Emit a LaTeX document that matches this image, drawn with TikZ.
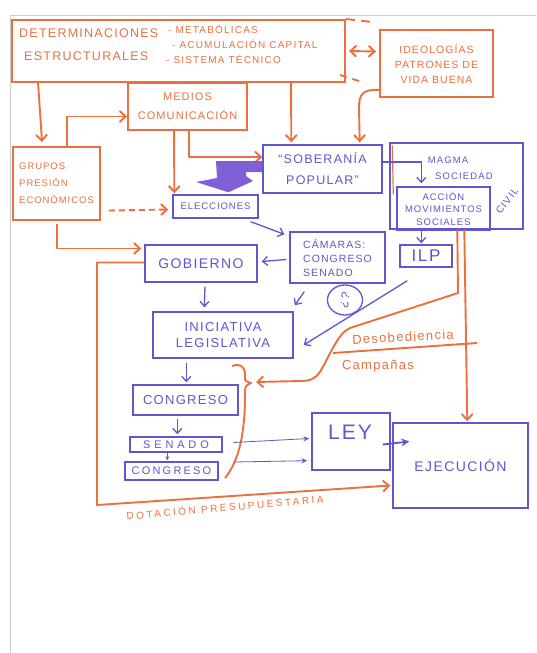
\documentclass[tikz,border=0pt]{standalone}
\usepackage{fontspec}
\setmainfont[LetterSpace=10]{Liberation Sans}
\usetikzlibrary{arrows.meta,calc,shapes.geometric}
\definecolor{orng}{RGB}{236,112,62}
\definecolor{blu}{RGB}{96,86,208}
\definecolor{purp}{RGB}{118,82,212}
\definecolor{framegray}{RGB}{205,205,205}
\newcommand\myfs[2]{\fontsize{#1}{#2}\selectfont}
\begin{document}
\begin{tikzpicture}[x=1pt,y=-1pt,
  obox/.style={draw=orng, line width=1.9pt, text=orng, align=center, inner sep=1pt},
  bbox/.style={draw=blu, line width=1.4pt, text=blu, align=center, inner sep=1pt},
  otext/.style={text=orng, align=center, inner sep=0pt},
  btext/.style={text=blu, align=center, inner sep=0pt},
  oline/.style={draw=orng, line width=1.9pt, line join=round},
  bline/.style={draw=blu, line width=1.3pt, line join=round},
  oarr/.style={oline, -{Straight Barb[length=6pt,width=11pt]}},
  barr/.style={bline, -{Straight Barb[length=5pt,width=9pt]}},
  thinb/.style={draw=blu, line width=0.8pt, -{Stealth[length=6pt,width=5pt]}},
]
\useasboundingbox (0,0) rectangle (536,653);
\fill[white] (0,0) rectangle (536,653);
\draw[framegray, line width=0.8pt] (10,653) -- (10,15) -- (536,15);

% ---------- orange boxes ----------
\node[obox, minimum width=333pt, minimum height=62pt] (det) at (178.5,51) {};
\node[otext, font=\myfs{12.5}{14}, anchor=west] (detA) at (19,33) {DETERMINACIONES};
\node[otext, font=\myfs{12.5}{14}, anchor=west] (detB) at (24,56) {ESTRUCTURALES};
\node[otext, font=\myfs{10}{12}, anchor=west] (detC) at (168,29) {\addfontfeature{LetterSpace=12}- METABÓLICAS};
\node[otext, font=\myfs{10}{12}, anchor=west] (detD) at (172,44) {\addfontfeature{LetterSpace=12}- ACUMULACIÓN CAPITAL};
\node[otext, font=\myfs{10}{12}, anchor=west] (detE) at (166,59) {\addfontfeature{LetterSpace=12}- SISTEMA TÉCNICO};

\node[obox, minimum width=113pt, minimum height=67pt, font=\myfs{10.5}{15}] (ideo) at (436.5,63.5) {IDEOLOGÍAS\\PATRONES DE\\VIDA BUENA};
\node[obox, minimum width=119pt, minimum height=47pt, font=\myfs{11}{19}] (medios) at (187.5,106.5) {MEDIOS\\COMUNICACIÓN};
\node[obox, minimum width=87pt, minimum height=73pt, font=\myfs{9.5}{17}, align=left] (grupos) at (56.5,183.5) {GRUPOS\\PRESIÓN\\ECONÓMICOS};

% ---------- blue boxes ----------
\node[bbox, minimum width=119pt, minimum height=48pt, font=\myfs{12.5}{21}] (sob) at (322.5,169) {“SOBERANÍA\\POPULAR”};
\node[bbox, minimum width=85pt, minimum height=23pt, font=\myfs{9.5}{11}] (elec) at (215.5,206.5) {ELECCIONES};
\node[bbox, minimum width=112pt, minimum height=37pt, font=\myfs{14}{16}] (gob) at (201,263.5) {GOBIERNO};
\node[bbox, minimum width=95pt, minimum height=51pt, font=\myfs{10.5}{14}, align=left] (cam) at (337.5,257.5) {CÁMARAS:\\CONGRESO\\SENADO};
\node[bbox, minimum width=133pt, minimum height=86pt] (magma) at (456.5,186) {};
\node[btext, font=\myfs{9.5}{11}] (magA) at (448,160) {\addfontfeature{LetterSpace=12}MAGMA};
\node[btext, font=\myfs{9.5}{11}] (magB) at (464,176) {\addfontfeature{LetterSpace=12}SOCIEDAD};
\node[btext, font=\myfs{10}{11}, rotate=52] (civil) at (507,201) {\addfontfeature{LetterSpace=12}CIVIL};
\node[bbox, minimum width=93pt, minimum height=43pt, font=\myfs{9.5}{12.5}] (accion) at (443.5,208.5) {ACCIÓN\\MOVIMIENTOS\\SOCIALES};
\node[bbox, minimum width=52pt, minimum height=22pt, font=\myfs{17}{18}] (ilp) at (426,256) {ILP};
\node[bbox, minimum width=140pt, minimum height=46pt, font=\myfs{13}{16}] (inic) at (223,335) {INICIATIVA\\LEGISLATIVA};
\node[bbox, minimum width=105pt, minimum height=30pt, font=\myfs{13}{14}] (congA) at (185.5,400) {CONGRESO};
\node[bbox, minimum width=92pt, minimum height=15pt, font=\myfs{11}{12}] (sen) at (176,444.5) {\addfontfeature{LetterSpace=35}SENADO};
\node[bbox, minimum width=93pt, minimum height=18pt, font=\myfs{11}{12}] (congB) at (171.5,471) {\addfontfeature{LetterSpace=20}CONGRESO};
\node[bbox, minimum width=78pt, minimum height=57pt] (ley) at (351,441.5) {};
\node[btext, font=\myfs{21}{22}] (leyT) at (350,432) {LEY};
\node[bbox, minimum width=135pt, minimum height=85pt, font=\myfs{14}{16}] (ejec) at (460.5,465.5) {EJECUCIÓN};

\node[ellipse, draw=blu, line width=1.3pt, minimum width=35pt, minimum height=30pt] (qcirc) at (345,300) {};
\node[btext, font=\myfs{12}{12}, rotate=70] (qtxt) at (qcirc) {¿?};

% ---------- free labels ----------
\node[otext, font=\myfs{13}{14}, rotate=3] (desob) at (403,337) {Desobediencia};
\node[otext, font=\myfs{13}{14}] (camp) at (378,366) {Campañas};
\node[otext, font=\myfs{10}{12}, rotate=5] (dot) at (225,507) {\addfontfeature{LetterSpace=25}DOTACIÓN PRESUPUESTARIA};

\coordinate (dashA) at (372,22);
\coordinate (dashB) at (362,82);
\coordinate (bracetip) at (251,383);
\coordinate (divL) at (333,353);
\coordinate (divR) at (477,343);

% ---------- orange connectors ----------
\draw[oarr] ($(det.south west)+(27,0)$) -- ($(grupos.north west)+(30,-4)$);
\draw[oarr] ($(grupos.north west)+(55,0)$) |- ($(medios.west)+(0,10)$);
\draw[oarr] ($(medios.south west)+(47,0)$) -- ($(elec.north west)+(2,-1)$);
\draw[oarr] ($(medios.south west)+(62,0)$) |- ($(sob.west)+(0,-12)$);
\draw[oarr] ($(det.south west)+(280,0)$) -- ($(sob.north west)+(29,-2)$);
\draw[oarr] ($(ideo.south west)+(0,-8)$) .. controls (362,89) and (359,95) .. (359,108) -- ($(sob.north east)+(-23,-2)$);
\draw[oline, {Straight Barb[length=6pt,width=11pt]}-{Straight Barb[length=6pt,width=11pt]}] ($(det.east)+(3,0)$) -- ($(ideo.west)+(-3,-12)$);
\draw[oline, dash pattern=on 9pt off 6pt] (det.north east) -- (dashA);
\draw[oline, dash pattern=on 7pt off 6pt] ($(det.south east)+(-6,-8)$) -- (dashB);
\draw[oarr, dash pattern=on 6pt off 4pt] ($(grupos.east)+(8,27)$) -- ($(elec.west)+(-4,3)$);
\draw[oarr] ($(grupos.south west)+(45,3)$) |- ($(gob.west)+(-3,-15)$);
\draw[oarr] ($(gob.west)+(0,-1)$) -| (97,505) -- ($(ejec.west)+(-2,20)$);
\draw[oarr] ($(magma.south west)+(75,0)$) -- ($(ejec.north west)+(75,-1)$);
\draw[oarr] ($(magma.south west)+(68,0)$) -- (458,293) -- (350,328)
   .. controls (338,333) and (330,355) .. (320,372)
   .. controls (315,379) and (310,381) .. (300,381) -- ($(bracetip)+(5,-1)$);
\draw[oline] (divL) -- (divR);
\draw[oline] (232,366) .. controls (242,362) and (246,370) .. (245,377)
   .. controls (245,381) .. (bracetip)
   .. controls (245,386) .. (245,395)
   .. controls (245,430) and (240,460) .. (225,478);
\draw[orng, line width=1.2pt] ($(magma.north west)+(3,3)$) -- ($(magma.north west)+(4,52)$);

% ---------- blue connectors ----------
\fill[purp, opacity=0.92] ($(sob.west)+(0,-8)$) -- (216,161) -- (217,178) -- (196,182) -- ($(elec.north)+(13,-2)$) -- (253,181) -- (246,176) -- (246,172) -- ($(sob.west)+(0,3)$) -- cycle;
\draw[barr] ($(elec.south east)+(-8,3)$) -- ($(cam.north west)+(-5,3)$);
\draw[barr] ($(cam.west)+(-3,2)$) -- ($(gob.east)+(4,-2)$);
\draw[barr] ($(sob.east)+(0,-7)$) -| ($(accion.north west)+(25,-3)$);
\draw[barr] ($(accion.south west)+(25,0)$) -- ($(ilp.north west)+(22,-1)$);
\draw[barr] ($(ilp.south west)+(8,13)$) -- ($(inic.east)+(10,10)$);
\draw[barr] ($(cam.south west)+(15,8)$) -- ($(inic.north east)+(1,-6)$);
\draw[barr] ($(gob.south)+(4,4)$) -- ($(inic.north west)+(52,-4)$);
\draw[barr] ($(inic.south west)+(34,4)$) -- ($(congA.north west)+(54,-2)$);
\draw[barr] ($(congA.south west)+(45,3)$) -- ($(sen.north west)+(48,-2)$);
\draw[blu, line width=0.9pt, -{Stealth[length=4pt,width=4pt]}] ($(sen.south west)+(38,0)$) -- ($(congB.north west)+(43,-1)$);
\draw[thinb] ($(sen.east)+(11,-2)$) -- ($(ley.west)+(-2,-3)$);
\draw[thinb] ($(congB.east)+(15,-9)$) -- ($(ley.south west)+(-4,-10)$);
\draw[blu, line width=1.8pt, -{Stealth[length=8pt,width=8pt]}] ($(ley.east)+(-8,3)$) -- ($(ejec.west)+(17,-24)$);
\end{tikzpicture}
\end{document}
